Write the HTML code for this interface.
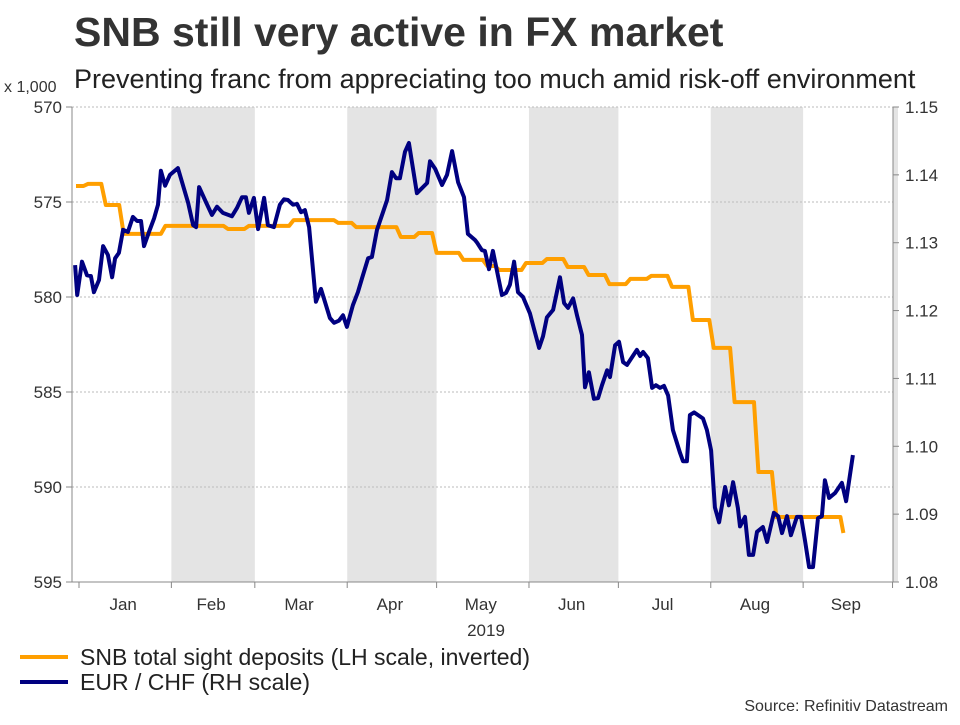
<!DOCTYPE html>
<html><head><meta charset="utf-8"><style>
body{margin:0;background:#fff;}
svg text{font-family:"Liberation Sans",Arial,sans-serif;}
</style></head><body>
<svg width="960" height="720" viewBox="0 0 960 720" xmlns="http://www.w3.org/2000/svg">
<text x="74" y="46" font-size="41" font-weight="bold" fill="#333">SNB still very active in FX market</text>
<text x="74" y="88" font-size="27" fill="#222">Preventing franc from appreciating too much amid risk-off environment</text>
<text x="4" y="92" font-size="16" fill="#333">x 1,000</text>
<g id="bands"></g>
<g id="grid"></g>
<g id="axes"></g>
<g id="series"></g>
<line x1="20" y1="657" x2="68" y2="657" stroke="#ff9f00" stroke-width="4"/>
<text x="80" y="665" font-size="23" fill="#222">SNB total sight deposits (LH scale, inverted)</text>
<line x1="20" y1="682" x2="68" y2="682" stroke="#000080" stroke-width="4"/>
<text x="80" y="690" font-size="23" fill="#222">EUR / CHF (RH scale)</text>
<text x="948" y="711" font-size="16" fill="#333" text-anchor="end">Source: Refinitiv Datastream</text>
</svg>
<script>
const leftTicks=[570,575,580,585,590,595];
const rightTicks=[1.15,1.14,1.13,1.12,1.11,1.10,1.09,1.08];
const monthLabels=["Jan","Feb","Mar","Apr","May","Jun","Jul","Aug","Sep"];
const monthStarts=[0,31,59,90,120,151,181,212,243,273];
const snbDays=[-1,3,9,15,29,50,57,72,87,93,108,114,120,129,137,141,150,157,164,171,178,185,192,199,206,213,220,228,234,255.5,256.5];
const snbVals=[574.16,574.05,575.16,576.68,576.26,576.42,576.26,575.95,576.1,576.32,576.84,576.63,577.68,578.05,578.37,578.58,578.21,578.0,578.42,578.84,579.32,579.05,578.89,579.47,581.21,582.68,585.53,589.21,591.58,591.58,592.42];
const fxDays=[-1.3,-0.6,1,2.7,4,5,6.7,8.1,9.7,11.1,12.1,13.4,14.8,16.4,18.1,19.5,20.8,21.8,23.5,25.2,26.5,27.5,28.9,30.5,33.2,36.6,38.3,39.3,40.3,42.6,44.6,46.3,48.3,51.3,53,54.7,56,57,58.7,60.1,62.1,63.4,65.4,67.4,68.8,70.1,71.8,73.2,74.5,75.8,77.2,79.5,81.2,84.2,85.6,87.2,88.6,89.9,91.9,93.6,95,97,98.3,100,102,103.4,105,106.4,107.7,109.4,110.7,113.4,116.8,117.8,119.5,121.8,123.5,125.2,127.2,129.2,130.5,132.9,133.6,135.2,136.2,137.6,138.9,141.9,143.3,144.6,146,147.3,149,151.3,152.7,154.4,155.7,157,159.1,161.4,162.8,164.1,165.8,167.1,168.8,169.8,171.1,172.8,174.2,175.5,177.2,178.2,179.9,181.2,182.6,183.9,187.2,188.3,189.3,190.9,192.3,193.6,195,196.3,197.7,199.3,201.7,202.7,204,205,206.4,209.4,210.7,212.1,213.4,214.8,216.8,218.1,219.5,221.1,221.8,223.5,224.8,226.2,227.5,229.5,230.9,233.2,234.6,235.9,237.6,238.9,240.9,242.3,243.6,245,246.3,248,249.3,250.3,251.7,253.7,256,257.4,259.7];
const fxVals=[1.1267,1.1223,1.1272,1.1252,1.1251,1.1227,1.1245,1.1295,1.1282,1.1249,1.1277,1.1285,1.1319,1.1316,1.1338,1.1332,1.1332,1.1295,1.1316,1.1336,1.1356,1.1406,1.1384,1.14,1.141,1.1359,1.1326,1.1323,1.1382,1.136,1.1341,1.1353,1.1344,1.1339,1.1351,1.1367,1.1367,1.1344,1.1366,1.132,1.1366,1.1326,1.1323,1.1356,1.1364,1.1363,1.1356,1.1357,1.1345,1.1348,1.1323,1.1213,1.1232,1.1189,1.1182,1.1185,1.1193,1.1176,1.1208,1.1227,1.1248,1.1277,1.1279,1.1319,1.1345,1.1363,1.1404,1.1395,1.1395,1.1434,1.1447,1.1373,1.1388,1.142,1.1409,1.1385,1.14,1.1435,1.1389,1.1367,1.1313,1.1304,1.13,1.1289,1.1288,1.1261,1.1288,1.1223,1.1226,1.1238,1.1272,1.1227,1.122,1.1196,1.1173,1.1145,1.1162,1.119,1.1201,1.1249,1.1211,1.1204,1.1218,1.1193,1.1164,1.1087,1.1109,1.107,1.1071,1.109,1.1112,1.1102,1.1149,1.1154,1.1124,1.112,1.1142,1.1133,1.1139,1.113,1.1086,1.109,1.1086,1.1089,1.1075,1.1024,1.099,1.0978,1.0978,1.1046,1.105,1.1041,1.1024,1.0994,1.091,1.0888,1.094,1.0913,1.0947,1.0909,1.0882,1.0896,1.084,1.084,1.0874,1.0881,1.0859,1.0902,1.0897,1.0872,1.0897,1.0869,1.0896,1.0896,1.0862,1.0822,1.0822,1.0894,1.0897,1.095,1.0924,1.0931,1.0946,1.0919,1.0987];

const NS="http://www.w3.org/2000/svg";
const X0=72,X1=893,Y0=107,Y1=582;
const xs=d=>79+d*2.98;
const yl=v=>Y0+(v-570)/25*(Y1-Y0);
const yr=v=>Y0+(1.15-v)/0.07*(Y1-Y0);
function mk(tag,attrs,parent){const e=document.createElementNS(NS,tag);for(const k in attrs)e.setAttribute(k,attrs[k]);document.getElementById(parent).appendChild(e);return e;}

[1,3,5,7].forEach(i=>{
  const r=mk('rect',{x:xs(monthStarts[i]),y:Y0,width:xs(monthStarts[i+1])-xs(monthStarts[i]),height:Y1-Y0,fill:'#e4e4e4'},'bands');
  
  
});
const rb=mk('rect',{x:X1,y:Y0,width:5,height:Y1-Y0,fill:'#e4e4e4'},'bands');



leftTicks.forEach(v=>{
  const y=yl(v);
  if(v<595){const g=mk('line',{x1:X0,x2:X1,y1:y,y2:y,stroke:'#bbb','stroke-width':1,'stroke-dasharray':'2,2'},'grid');
  
  }
  mk('line',{x1:X0-6,x2:X0,y1:y,y2:y,stroke:'#888'},'axes');
  const t=mk('text',{x:X0-10,y:y+6,'font-size':17,'text-anchor':'end',fill:'#333'},'axes');
  t.textContent=v;
  
  
});
rightTicks.forEach(v=>{
  const y=yr(v);
  mk('line',{x1:X1,x2:X1+6,y1:y,y2:y,stroke:'#888'},'axes');
  const t=mk('text',{x:X1+12,y:y+6,'font-size':17,fill:'#333'},'axes');
  t.textContent=v.toFixed(2);
  
  
});
mk('line',{x1:X0,x2:X0,y1:Y0,y2:Y1,stroke:'#888'},'axes');
mk('line',{x1:X1,x2:X1,y1:Y0,y2:Y1,stroke:'#888'},'axes');
mk('line',{x1:X0,x2:X1,y1:Y1,y2:Y1,stroke:'#888'},'axes');
monthStarts.forEach(d=>{mk('line',{x1:xs(d),x2:xs(d),y1:Y1,y2:Y1+6,stroke:'#888'},'axes');});
monthLabels.forEach((m,i)=>{
  const t=mk('text',{x:(xs(monthStarts[i])+xs(monthStarts[i+1]))/2-2,y:610,'font-size':17,'text-anchor':'middle',fill:'#333'},'axes');
  t.textContent=m;
  
  
});
const yt=mk('text',{x:486,y:636,'font-size':17,'text-anchor':'middle',fill:'#333'},'axes');
yt.textContent='2019';



let p='';
snbDays.forEach((d,i)=>{
  const y=yl(snbVals[i]);
  p+=(i?'L':'M')+xs(d).toFixed(1)+','+y.toFixed(1);
  if(i<snbDays.length-1){const nd=Math.max(d,snbDays[i+1]-1.5);p+='L'+xs(nd).toFixed(1)+','+y.toFixed(1);}
});
const snb=mk('path',{d:p,fill:'none',stroke:'#ff9f00','stroke-width':4,'stroke-linejoin':'round'},'series');



let q='';
fxDays.forEach((d,i)=>{q+=(i?'L':'M')+xs(d).toFixed(1)+','+yr(fxVals[i]).toFixed(1);});
const fx=mk('path',{d:q,fill:'none',stroke:'#000080','stroke-width':4,'stroke-linejoin':'round'},'series');


</script>
</body></html>
